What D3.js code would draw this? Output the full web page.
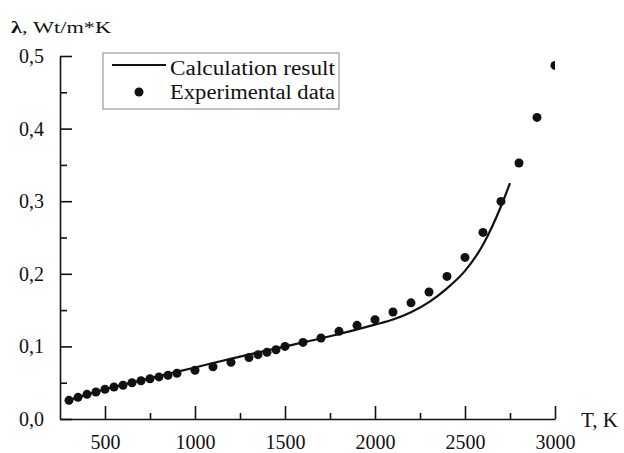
<!DOCTYPE html>
<meta charset="utf-8">
<head>
<script src="https://d3js.org/d3.v7.min.js"></script>
<style>
  body { margin: 0; background: #fff; }
  text { font-family: "Liberation Serif", "Times New Roman", serif; fill: #111; }
</style>
</head>
<body>
<div id="chart"></div>
<script>
// experimental points, T in K and lambda in Wt/m*K
var expT = [300, 350, 400, 450, 500, 550, 600, 650, 700, 750, 800, 850, 900,
            1000, 1100, 1200, 1300, 1350, 1400, 1450, 1500, 1600, 1700,
            1800, 1900, 2000, 2100, 2200, 2300, 2400, 2500, 2600, 2700, 2800, 2900, 3000];
var expL = [0.0257, 0.0298, 0.034, 0.0372, 0.041, 0.044, 0.0465, 0.050, 0.0527, 0.0555, 0.058, 0.0603, 0.063,
            0.0672, 0.072, 0.078, 0.0846, 0.0886, 0.092, 0.0954, 0.100, 0.1055, 0.1115,
            0.1207, 0.129, 0.1368, 0.1474, 0.160, 0.175, 0.1964, 0.2226, 0.257, 0.2997, 0.3526, 0.4154, 0.487];

// calculation result curve
var calcT = [300, 500, 750, 1000, 1250, 1500, 1750, 2000, 2100, 2200, 2300, 2400, 2500, 2600, 2700, 2750];
var calcL = [0.026, 0.041, 0.056, 0.071, 0.086, 0.100, 0.114, 0.130, 0.137, 0.147, 0.161, 0.180, 0.204, 0.240, 0.293, 0.325];

var xMajor = [500, 1000, 1500, 2000, 2500, 3000];
var xMinor = [750, 1250, 1750, 2250, 2750];
var yMajor = [0, 0.1, 0.2, 0.3, 0.4, 0.5];
var yMinor = [0.05, 0.15, 0.25, 0.35, 0.45];

var width = 624, height = 453;
var margin = {top: 56, right: 69, bottom: 34, left: 60};
var serif = "'Liberation Serif', 'Times New Roman', serif";

var svg = d3.select("#chart").append("svg")
  .attr("width", width)
  .attr("height", height);

var x = d3.scaleLinear().domain([250, 3000]).range([margin.left, width - margin.right]);
var y = d3.scaleLinear().domain([0, 0.5]).range([height - margin.bottom, margin.top]);

var fmt = function(d) { return d3.format(".1f")(d).replace(".", ","); };

// x axis
svg.append("g")
  .attr("transform", "translate(0," + y(0) + ")")
  .call(d3.axisBottom(x).tickValues(xMinor).tickSize(-6).tickSizeOuter(0).tickFormat(""))
  .call(function(g) { g.select(".domain").remove(); });
svg.append("g")
  .attr("transform", "translate(0," + y(0) + ")")
  .call(d3.axisBottom(x).tickValues(xMajor).tickSize(-13).tickSizeOuter(0).tickPadding(16).tickFormat(d3.format("d")))
  .attr("font-family", serif)
  .attr("font-size", 20);

// y axis
svg.append("g")
  .attr("transform", "translate(" + x(250) + ",0)")
  .call(d3.axisLeft(y).tickValues(yMinor).tickSize(-7).tickSizeOuter(0).tickFormat(""))
  .call(function(g) { g.select(".domain").remove(); });
svg.append("g")
  .attr("transform", "translate(" + x(250) + ",0)")
  .call(d3.axisLeft(y).tickValues(yMajor).tickSize(-12).tickSizeOuter(0).tickPadding(16).tickFormat(fmt))
  .attr("font-family", serif)
  .attr("font-size", 20);

svg.selectAll(".domain, .tick line").attr("stroke", "#111").attr("stroke-width", 1.6);

// axis titles
svg.append("text")
  .attr("x", 581).attr("y", 427)
  .style("font-size", "21px")
  .text("T, K");

var yt = svg.append("text")
  .attr("x", 11).attr("y", 33)
  .style("font-size", "17px")
  .attr("textLength", 100)
  .attr("lengthAdjust", "spacingAndGlyphs");
yt.append("tspan").style("font-weight", "bold").text("λ");
yt.append("tspan").text(", Wt/m*K");

// plot area clip
svg.append("clipPath").attr("id", "clip")
  .append("rect")
  .attr("x", x(250)).attr("y", 0)
  .attr("width", x(3000) - x(250)).attr("height", y(0));

var plot = svg.append("g").attr("clip-path", "url(#clip)");

var calc = calcT.map(function(t, i) { return {t: t, v: calcL[i]}; });
var exp = expT.map(function(t, i) { return {t: t, v: expL[i]}; });

plot.append("path")
  .datum(calc)
  .attr("fill", "none")
  .attr("stroke", "#111")
  .attr("stroke-width", 2.2)
  .attr("d", d3.line()
    .curve(d3.curveMonotoneX)
    .x(function(d) { return x(d.t); })
    .y(function(d) { return y(d.v); }));

plot.selectAll("circle")
  .data(exp)
  .enter().append("circle")
  .attr("cx", function(d) { return x(d.t); })
  .attr("cy", function(d) { return y(d.v); })
  .attr("r", 4.5)
  .attr("fill", "#111");

// legend
var leg = svg.append("g");
leg.append("rect")
  .attr("x", 103).attr("y", 53)
  .attr("width", 236).attr("height", 56)
  .attr("fill", "#fff")
  .attr("stroke", "#999")
  .attr("stroke-width", 1.2);
leg.append("line")
  .attr("x1", 112).attr("x2", 166)
  .attr("y1", 65).attr("y2", 65)
  .attr("stroke", "#111").attr("stroke-width", 2.2);
leg.append("circle")
  .attr("cx", 139).attr("cy", 92).attr("r", 4.5).attr("fill", "#111");
leg.append("text")
  .attr("x", 170).attr("y", 75)
  .style("font-size", "20px")
  .attr("textLength", 165).attr("lengthAdjust", "spacingAndGlyphs")
  .text("Calculation result");
leg.append("text")
  .attr("x", 170).attr("y", 99)
  .style("font-size", "20px")
  .attr("textLength", 165).attr("lengthAdjust", "spacingAndGlyphs")
  .text("Experimental data");
</script>
</body>
</html>
